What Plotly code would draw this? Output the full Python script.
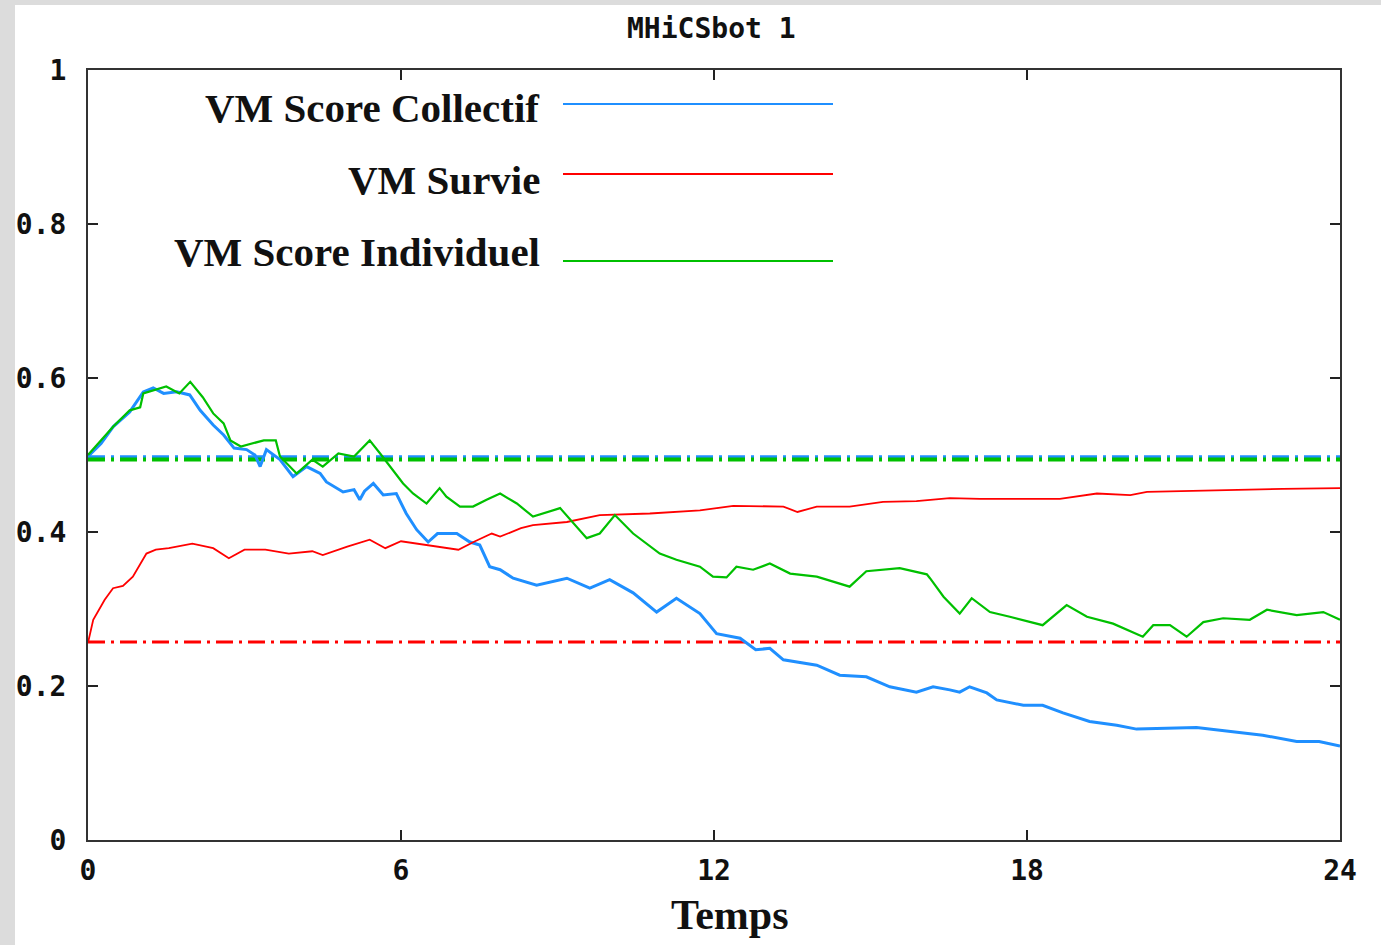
import plotly.graph_objects as go

# ---- data ----
title_text = "MHiCSbot 1"
x_title = "Temps"
x_ticks = [0, 6, 12, 18, 24]
y_ticks = [0, 0.2, 0.4, 0.6, 0.8, 1]
y_ticklabels = ["0", "0.2", "0.4", "0.6", "0.8", "1"]

names = ["VM Score Collectif", "VM Survie", "VM Score Individuel"]
colors = ["#1f8fff", "#ff0000", "#00c000"]

t_collectif = [0.0, 0.25, 0.485, 0.8, 1.06, 1.25, 1.45, 1.7, 1.95, 2.15, 2.4, 2.6, 2.8, 3.04, 3.2, 3.3,
               3.42, 3.68, 3.93, 4.19, 4.45, 4.57, 4.89, 5.1, 5.21, 5.3, 5.47, 5.66, 5.91, 6.1, 6.3,
               6.52, 6.7, 7.07, 7.32, 7.51, 7.7, 7.9, 8.15, 8.6, 9.18, 9.62, 10.0, 10.45, 10.9, 11.28,
               11.73, 12.05, 12.5, 12.8, 13.07, 13.33, 13.97, 14.41, 14.92, 15.37, 15.88, 16.2, 16.52,
               16.71, 16.9, 17.23, 17.42, 17.93, 18.3, 18.69, 19.2, 19.72, 20.1, 21.25, 22.52, 23.17,
               23.6, 24.0]
v_collectif = [0.498, 0.515, 0.537, 0.556, 0.582, 0.587, 0.580, 0.582, 0.578, 0.558, 0.539, 0.526, 0.509,
               0.507, 0.500, 0.485, 0.507, 0.494, 0.472, 0.485, 0.476, 0.465, 0.452, 0.455, 0.442, 0.453,
               0.463, 0.448, 0.450, 0.424, 0.403, 0.387, 0.398, 0.398, 0.387, 0.383, 0.355, 0.351, 0.340,
               0.331, 0.340, 0.327, 0.338, 0.321, 0.296, 0.314, 0.294, 0.268, 0.262, 0.247, 0.249, 0.234,
               0.227, 0.214, 0.212, 0.199, 0.192, 0.199, 0.195, 0.192, 0.199, 0.191, 0.182, 0.175, 0.175,
               0.165, 0.154, 0.149, 0.144, 0.146, 0.136, 0.128, 0.128, 0.122]

t_survie = [0.0, 0.1, 0.32, 0.48, 0.67, 0.86, 1.12, 1.3, 1.55, 2.0, 2.4, 2.7, 3.0, 3.4, 3.85, 4.3, 4.5,
            4.97, 5.4, 5.7, 6.0, 6.5, 7.1, 7.42, 7.74, 7.9, 8.3, 8.53, 9.18, 9.81, 10.77, 11.73, 12.37,
            13.33, 13.6, 13.97, 14.6, 15.24, 15.88, 16.52, 17.1, 18.63, 19.34, 19.98, 20.3, 22.9, 24.0]
v_survie = [0.256, 0.286, 0.312, 0.327, 0.330, 0.342, 0.372, 0.377, 0.379, 0.385, 0.379, 0.366, 0.377,
            0.377, 0.372, 0.375, 0.370, 0.381, 0.390, 0.379, 0.388, 0.383, 0.377, 0.388, 0.398, 0.394,
            0.405, 0.409, 0.413, 0.422, 0.424, 0.428, 0.434, 0.433, 0.426, 0.433, 0.433, 0.439, 0.440,
            0.444, 0.443, 0.443, 0.450, 0.448, 0.452, 0.456, 0.457]

t_individuel = [0.0, 0.485, 0.8, 1.0, 1.06, 1.5, 1.75, 1.96, 2.2, 2.4, 2.6, 2.73, 2.93, 3.18, 3.37, 3.6,
                3.68, 4.0, 4.3, 4.5, 4.8, 5.1, 5.4, 5.6, 5.84, 6.04, 6.23, 6.49, 6.74, 6.87, 7.13, 7.38,
                7.64, 7.9, 8.22, 8.53, 9.05, 9.24, 9.56, 9.81, 10.1, 10.45, 10.96, 11.28, 11.73, 11.98,
                12.24, 12.43, 12.75, 13.07, 13.46, 13.97, 14.6, 14.92, 15.56, 16.08, 16.14, 16.4, 16.71,
                16.94, 17.29, 17.67, 18.06, 18.3, 18.76, 19.15, 19.65, 20.22, 20.42, 20.74, 21.06, 21.38,
                21.76, 22.27, 22.6, 23.17, 23.68, 24.0]
v_individuel = [0.500, 0.537, 0.558, 0.562, 0.580, 0.589, 0.580, 0.595, 0.575, 0.554, 0.541, 0.519, 0.511,
                0.515, 0.519, 0.519, 0.498, 0.476, 0.494, 0.485, 0.502, 0.498, 0.519, 0.502, 0.480, 0.463,
                0.450, 0.437, 0.457, 0.446, 0.433, 0.433, 0.442, 0.450, 0.437, 0.420, 0.431, 0.416, 0.392,
                0.398, 0.422, 0.398, 0.372, 0.364, 0.355, 0.342, 0.341, 0.355, 0.351, 0.359, 0.346, 0.342,
                0.329, 0.349, 0.353, 0.345, 0.340, 0.316, 0.294, 0.314, 0.296, 0.290, 0.283, 0.279, 0.305,
                0.290, 0.281, 0.264, 0.279, 0.279, 0.264, 0.283, 0.288, 0.286, 0.299, 0.292, 0.296, 0.286]

# reference (dash-dot) levels
t_ref = [0, 24]
ref_collectif = [0.497, 0.497]
ref_survie = [0.257, 0.257]
ref_individuel = [0.494, 0.494]

# ---- figure ----
W, H = 1381, 945
ML, MR, MT, MB = 88, 41, 70, 105
PW, PH = W - ML - MR, H - MT - MB


def px(x):
    return (x - ML) / PW


def py(y):
    return (H - MB - y) / PH


fig = go.Figure()
dashdot = "17px,6px,3px,6px"

fig.add_trace(go.Scatter(x=t_ref, y=ref_collectif, mode="lines",
                         line=dict(color=colors[0], width=4, dash=dashdot), hoverinfo="skip"))
fig.add_trace(go.Scatter(x=t_ref, y=ref_individuel, mode="lines",
                         line=dict(color=colors[2], width=4, dash=dashdot), hoverinfo="skip"))
fig.add_trace(go.Scatter(x=t_ref, y=ref_survie, mode="lines",
                         line=dict(color=colors[1], width=3, dash=dashdot), hoverinfo="skip"))

fig.add_trace(go.Scatter(x=t_collectif, y=v_collectif, mode="lines", name=names[0],
                         line=dict(color=colors[0], width=3)))
fig.add_trace(go.Scatter(x=t_survie, y=v_survie, mode="lines", name=names[1],
                         line=dict(color=colors[1], width=1.8)))
fig.add_trace(go.Scatter(x=t_individuel, y=v_individuel, mode="lines", name=names[2],
                         line=dict(color=colors[2], width=2.2)))

shapes = []
annotations = []

# manual key (text on the left, sample line on the right)
key_text_y = [108, 180, 252]
key_line_y = [104, 174, 261]
for name, col, ty, ly in zip(names, colors, key_text_y, key_line_y):
    annotations.append(dict(x=px(542), y=py(ty), xref="paper", yref="paper", text=name,
                            showarrow=False, xanchor="right", yanchor="middle",
                            font=dict(family="Liberation Serif", size=41, color="#111", weight="bold")))
    shapes.append(dict(type="line", xref="paper", yref="paper", x0=px(563), x1=px(833),
                       y0=py(ly), y1=py(ly), line=dict(color=col, width=2)))

annotations.append(dict(x=px(711), y=py(28), xref="paper", yref="paper", text=title_text,
                        showarrow=False, xanchor="center", yanchor="middle",
                        font=dict(family="DejaVu Sans Mono", size=28, color="#111", weight="bold")))
annotations.append(dict(x=px(730), y=py(915), xref="paper", yref="paper", text=x_title,
                        showarrow=False, xanchor="center", yanchor="middle",
                        font=dict(family="Liberation Serif", size=42, color="#111", weight="bold")))

# grey page frame on the left and top
grey = "#dcdcdc"
shapes.append(dict(type="rect", xref="paper", yref="paper", x0=px(0), x1=px(15), y0=py(H), y1=py(0),
                   fillcolor=grey, line=dict(width=0), layer="above"))
shapes.append(dict(type="rect", xref="paper", yref="paper", x0=px(0), x1=px(W), y0=py(5), y1=py(0),
                   fillcolor=grey, line=dict(width=0), layer="above"))

tickfont = dict(family="DejaVu Sans Mono", size=28, color="#111", weight="bold")
fig.update_layout(
    width=W, height=H,
    margin=dict(l=ML, r=MR, t=MT, b=MB, pad=0),
    paper_bgcolor="white", plot_bgcolor="white",
    showlegend=False,
    shapes=shapes, annotations=annotations,
    xaxis=dict(range=[0, 24], tickvals=x_ticks, ticktext=[str(v) for v in x_ticks],
               ticks="inside", ticklen=10, tickwidth=1.5, tickcolor="#222",
               showline=True, linecolor="#333", linewidth=2, mirror="ticks",
               showgrid=False, zeroline=False, tickfont=tickfont, ticklabelstandoff=4),
    yaxis=dict(range=[0, 1], tickvals=y_ticks, ticktext=y_ticklabels,
               ticks="inside", ticklen=10, tickwidth=1.5, tickcolor="#222",
               showline=True, linecolor="#333", linewidth=2, mirror="ticks",
               showgrid=False, zeroline=False, tickfont=tickfont, ticklabelstandoff=14),
)

fig.write_html("out.html", config={"displayModeBar": False},
               post_script="document.body.style.margin='0';")
